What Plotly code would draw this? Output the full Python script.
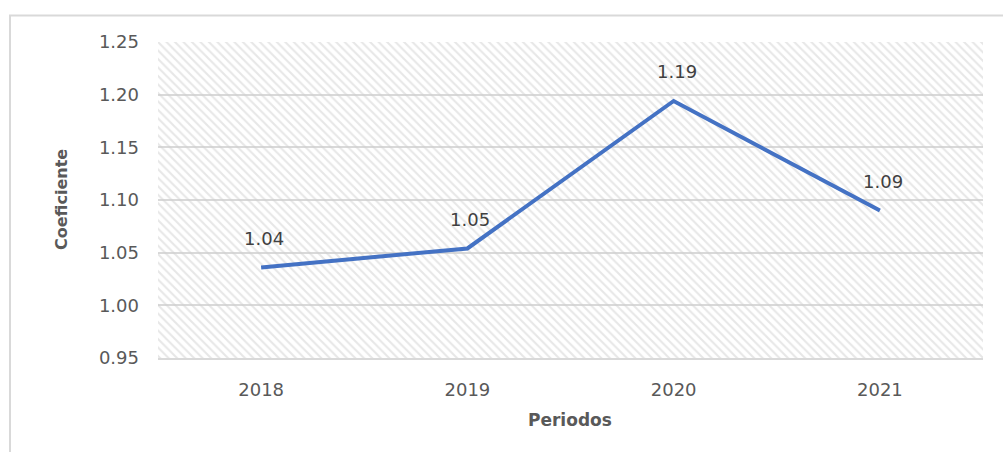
import plotly.graph_objects as go

# Coefficient by period
periods = ["2018", "2019", "2020", "2021"]
coefficients = [1.036, 1.054, 1.194, 1.090]

y_ticks = [0.95, 1.00, 1.05, 1.10, 1.15, 1.20, 1.25]
y_min, y_max = 0.95, 1.25

TEXT = "#595959"
LABEL = "#404040"
GRID = "#d9d9d9"
LINE = "#4472C4"
FONT = "DejaVu Sans"

W, H = 1003, 452
ML, MR, MT, MB = 158, 20, 42, 94
plot_w = W - ML - MR
plot_h = H - MT - MB


def px_to_paper_x(px):
    return (px - ML) / plot_w


def px_to_paper_y(py):
    return (H - MB - py) / plot_h


fig = go.Figure()

# Hatched plot background spanning the whole value range
fig.add_trace(go.Bar(
    x=periods,
    y=[y_max - y_min] * len(periods),
    base=[y_min] * len(periods),
    width=1,
    marker=dict(
        color="rgba(255,255,255,0)",
        line=dict(width=0),
        pattern=dict(shape="\\", fgcolor="#cfcfcf", bgcolor="rgba(255,255,255,0)",
                     size=6, solidity=0.35, fillmode="overlay"),
    ),
    hoverinfo="skip",
    showlegend=False,
))

fig.add_trace(go.Scatter(
    x=periods,
    y=coefficients,
    mode="lines",
    line=dict(color=LINE, width=4),
    showlegend=False,
    hoverinfo="skip",
))

# Value labels above each point
for i, v in enumerate(coefficients):
    fig.add_annotation(
        x=i, y=v, xref="x", yref="y",
        text=f"{v:.2f}", showarrow=False,
        xanchor="center", yanchor="middle", yshift=29, xshift=3,
        font=dict(family=FONT, size=18, color=LABEL),
    )

# Axis titles
fig.add_annotation(
    x=px_to_paper_x(570), y=px_to_paper_y(420), xref="paper", yref="paper",
    text="<b>Periodos</b>", showarrow=False, xanchor="center", yanchor="middle",
    font=dict(family=FONT, size=17, color=TEXT),
)
fig.add_annotation(
    x=px_to_paper_x(61), y=px_to_paper_y(200), xref="paper", yref="paper",
    text="<b>Coeficiente</b>", showarrow=False, textangle=-90,
    xanchor="center", yanchor="middle",
    font=dict(family=FONT, size=16, color=TEXT),
)

# Chart border
fig.add_shape(
    type="rect", xref="paper", yref="paper",
    x0=px_to_paper_x(10), x1=px_to_paper_x(1010),
    y0=px_to_paper_y(460), y1=px_to_paper_y(15.5),
    line=dict(color=GRID, width=2), fillcolor="rgba(0,0,0,0)", layer="below",
)

fig.update_layout(
    width=W, height=H,
    margin=dict(l=ML, r=MR, t=MT, b=MB),
    paper_bgcolor="white",
    plot_bgcolor="white",
    bargap=0,
    font=dict(family=FONT, color=TEXT),
    xaxis=dict(
        type="category",
        range=[-0.5, len(periods) - 0.5],
        showgrid=False,
        showline=True, linecolor=GRID, linewidth=2,
        ticks="", ticklabelstandoff=14,
        tickfont=dict(family=FONT, size=18, color=TEXT),
        fixedrange=True,
    ),
    yaxis=dict(
        range=[y_min, y_max],
        tickvals=y_ticks,
        tickformat=".2f",
        showgrid=True, gridcolor=GRID, gridwidth=1.5,
        zeroline=False, showline=False,
        ticks="", ticklabelstandoff=18,
        tickfont=dict(family=FONT, size=18, color=TEXT),
        fixedrange=True,
    ),
)

fig.write_html("out.html")
